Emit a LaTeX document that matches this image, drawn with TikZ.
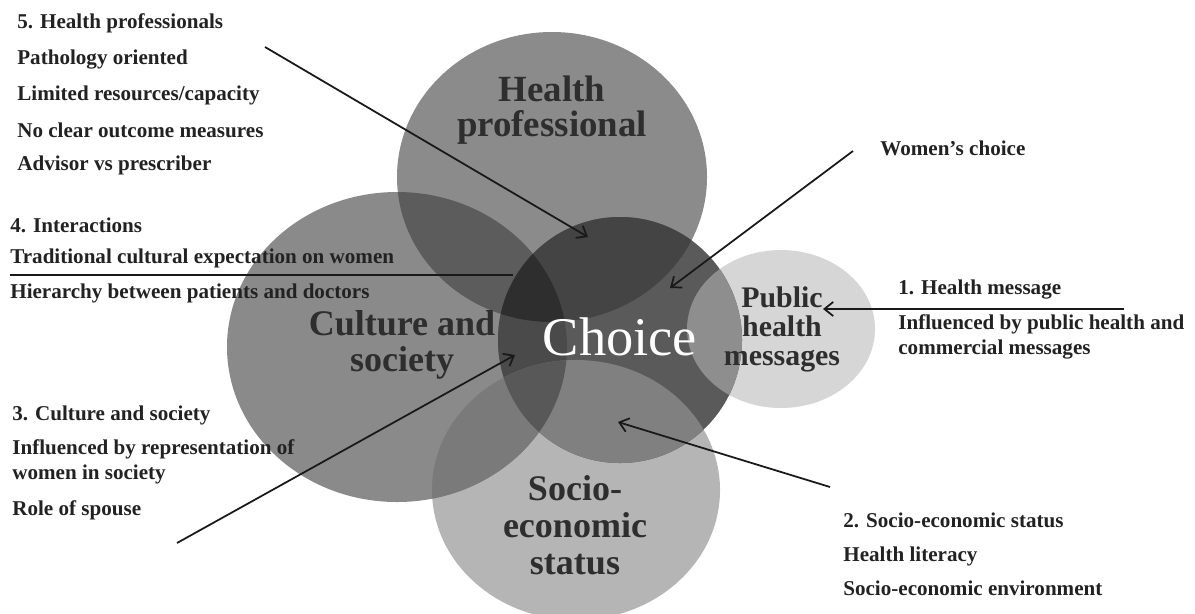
\documentclass[tikz,border=0pt]{standalone}
\usepackage{fontspec}
\setmainfont{Liberation Serif}
\usetikzlibrary{arrows.meta}
\newcommand{\healthpath}{(552,177) ellipse [x radius=155, y radius=145]}
\newcommand{\culturepath}{(397,347) ellipse [x radius=170, y radius=155]}
\newcommand{\choicepath}{(620,340) ellipse [x radius=122, y radius=123]}
\newcommand{\publicpath}{(781,329) ellipse [x radius=94, y radius=79]}
\newcommand{\sociopath}{(576,490) ellipse [x radius=144, y radius=130]}
\definecolor{healthcol}{HTML}{8B8B8B}
\definecolor{culturecol}{HTML}{8A8A8A}
\definecolor{choicecol}{HTML}{5A5A5A}
\definecolor{publiccol}{HTML}{D6D6D6}
\definecolor{sociocol}{HTML}{B5B5B5}
\definecolor{hccol}{HTML}{5C5C5C}
\definecolor{sccol}{HTML}{7A7A7A}
\definecolor{chhcol}{HTML}{444444}
\definecolor{chccol}{HTML}{4A4A4A}
\definecolor{chhccol}{HTML}{2E2E2E}
\definecolor{chscol}{HTML}{808080}
\definecolor{chsccol}{HTML}{585858}
\definecolor{chpcol}{HTML}{8E8E8E}
\definecolor{inkcol}{HTML}{222222}
\tikzset{
  sidetext/.style={anchor=west, inner sep=0pt, text=inkcol, align=left,
    font=\bfseries\fontsize{12}{14.2}\selectfont},
  circlabel/.style={align=center, inner sep=0pt, text=black!82},
  pointer/.style={->, line width=1pt, black!90}
}
\begin{document}
\begin{tikzpicture}[x=0.02cm, y=-0.02cm, >={Straight Barb[length=5pt,width=8pt]}]
    \useasboundingbox (0,0) rectangle (1195,613);
    \fill[white] (0,0) rectangle (1195,613);

    % circles
    \fill[sociocol] \sociopath;
    \fill[culturecol] \culturepath;
    \fill[healthcol] \healthpath;
    \fill[publiccol] \publicpath;
    \fill[choicecol] \choicepath;

    % overlaps
    \begin{scope}
        \clip \culturepath;
        \fill[hccol] \healthpath;
        \fill[sccol] \sociopath;
    \end{scope}
    \begin{scope}
        \clip \choicepath;
        \fill[chhcol] \healthpath;
        \fill[chccol] \culturepath;
        \fill[chscol] \sociopath;
        \fill[chpcol] \publicpath;
        \begin{scope}
            \clip \healthpath;
            \fill[chhccol] \culturepath;
        \end{scope}
        \begin{scope}
            \clip \sociopath;
            \fill[chsccol] \culturepath;
        \end{scope}
    \end{scope}

    % circle labels
    \node[circlabel, font=\bfseries\fontsize{21}{19.5}\selectfont] (hp) at (552,110) {Health\\professional};
    \node[circlabel, font=\bfseries\fontsize{20.5}{20.5}\selectfont] (cs) at (402,345) {Culture and\\society};
    \node[circlabel, text=white, font=\fontsize{31}{31}\selectfont] (ch) at (620,337) {Choice};
    \node[circlabel, font=\bfseries\fontsize{17}{16.5}\selectfont] (phm) at (782,329) {Public\\health\\messages};
    \node[circlabel, font=\bfseries\fontsize{20.5}{21}\selectfont] (ses) at (575,525) {Socio-\\economic\\status};

    % left texts
    \node[sidetext] (t5) at (17,23) {5. Health professionals};
    \node[sidetext] (t5a) at (17,60) {Pathology oriented};
    \node[sidetext] (t5b) at (17,95) {Limited resources/capacity};
    \node[sidetext] (t5c) at (17,130) {No clear outcome measures};
    \node[sidetext] (t5d) at (17,165) {Advisor vs prescriber};
    \node[sidetext] (t4) at (10,225) {4. Interactions};
    \node[sidetext] (t4a) at (10,258) {Traditional cultural expectation on women};
    \node[sidetext] (t4b) at (10,293) {Hierarchy between patients and doctors};
    \node[sidetext] (t3) at (12,415) {3. Culture and society};
    \node[sidetext] (t3a) at (12,462) {Influenced by representation of\\women in society};
    \node[sidetext] (t3b) at (12,510) {Role of spouse};

    % right texts
    \node[sidetext] (tw) at (880,148) {Women's choice};
    \node[sidetext] (t1) at (898,290) {1. Health message};
    \node[sidetext] (t1a) at (898,337) {Influenced by public health and\\commercial messages};
    \node[sidetext] (t2) at (843,520) {2. Socio-economic status};
    \node[sidetext] (t2a) at (843,556) {Health literacy};
    \node[sidetext] (t2b) at (843,588) {Socio-economic environment};

    % arrows
    \coordinate (a1s) at (1124,309);
    \coordinate (a1e) at (823,309);
    \coordinate (a2s) at (830,487);
    \coordinate (a2e) at (618,422);
    \coordinate (a3s) at (177,543);
    \coordinate (a3e) at (515,355);
    \coordinate (a4s) at (10,275);
    \coordinate (a4e) at (513,275);
    \coordinate (a5s) at (265,47);
    \coordinate (a5e) at (588,237);
    \coordinate (aws) at (853,151);
    \coordinate (awe) at (670,288);
    \draw[pointer] (a1s) -- (a1e);
    \draw[pointer] (a2s) -- (a2e);
    \draw[pointer] (a3s) -- (a3e);
    \draw[pointer, -] (a4s) -- (a4e);
    \draw[pointer] (a5s) -- (a5e);
    \draw[pointer] (aws) -- (awe);
\end{tikzpicture}
\end{document}
